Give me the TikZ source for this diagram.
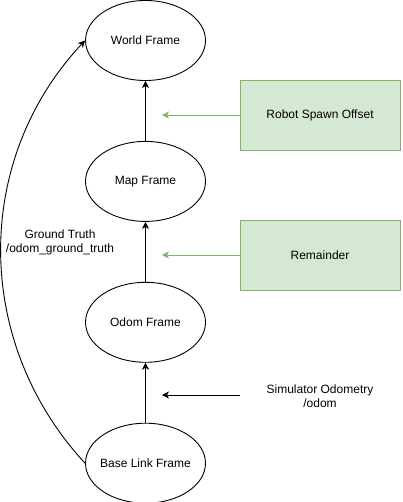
\documentclass[tikz,border=0pt]{standalone}
\usepackage{fontspec}
\setmainfont{Liberation Sans}
\usetikzlibrary{shapes,shapes.geometric,arrows,arrows.meta,calc,positioning}
\definecolor{boxgreen}{HTML}{D5E8D4}
\definecolor{linegreen}{HTML}{82B366}
\tikzset{frame/.style={draw,ellipse,inner xsep=-4pt,inner ysep=0pt,minimum width=120pt,minimum height=80pt}}
\tikzstyle{source}=[draw=linegreen, fill=boxgreen, rectangle, minimum width=160pt, minimum height=70pt]

\begin{document}
\begin{tikzpicture}[x=1pt,y=-1pt,>={Stealth[length=7pt,width=7pt,inset=2pt]}, line width=0.9pt, node distance=60pt, font=\fontsize{12}{14}\selectfont]
\useasboundingbox (0,0) rectangle (402,502);
\node[frame] (world) at (145.5,40.5) {World Frame};
\node[frame][below=of world] (map) {Map Frame};
\node[frame][below=of map] (odom) {Odom Frame};
\node[frame][below=of odom] (base) {Base Link Frame};
\node[source] (spawn) at (320,115) {Robot Spawn Offset};
\node[source] (rem) at (320,255) {Remainder};
\node[align=center] (sim) at (320,396) {Simulator Odometry\\/odom};
\node[align=center] (gt) at (60,242) {Ground Truth\\/odom\_ground\_truth};
\coordinate (spawnend) at (162,115);
\coordinate (remend) at (162,255);
\coordinate (simend) at (162,395);
\coordinate (simstart) at (240,395);
\path[->](map) edge (world)
	(odom) edge (map)
	(base) edge (odom);
\path[->, color=linegreen](spawn) edge (spawnend)
	(rem) edge (remend);
\draw[->] (simstart) -- (simend);
\draw[->] (base.west) .. controls (-27,342) and (-27,160) .. (world.west);
\end{tikzpicture}
\end{document}
